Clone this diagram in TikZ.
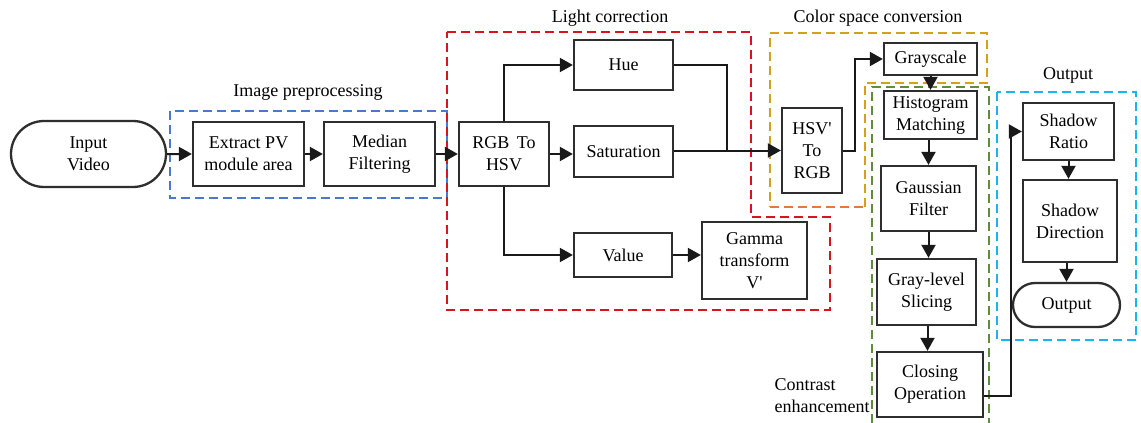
\documentclass[tikz,border=0pt]{standalone}
\usepackage{fontspec}
\setmainfont{Liberation Serif}
\usetikzlibrary{arrows.meta,shapes.misc}
\definecolor{edge}{HTML}{2E2E2E}
\definecolor{preblue}{HTML}{4A78D0}
\definecolor{lightred}{HTML}{D8141C}
\definecolor{csgold}{HTML}{D4A21A}
\definecolor{csorange}{HTML}{E8783A}
\definecolor{cegreen}{HTML}{5E8E3A}
\definecolor{outcyan}{HTML}{1AB4EE}
\newcommand{\prm}{\textquotesingle}
\tikzset{
  txt/.style={font=\fontsize{18}{22}\selectfont},
  stepbox/.style={txt, draw=edge, line width=2.3pt, fill=white, align=center, inner sep=0pt},
  terminal/.style={stepbox, rounded rectangle},
  arr/.style={draw=black!90, line width=2pt, -{Triangle[length=13pt,width=14pt]}},
  link/.style={draw=black!90, line width=2pt},
  region/.style={line width=2pt, dash pattern=on 9pt off 5pt},
}
\begin{document}
\begin{tikzpicture}[x=1pt,y=-1pt]
\useasboundingbox (0,0) rectangle (1141,423);

% group outlines
\draw[region, preblue] (170,111) rectangle (447,198);
\draw[region, lightred] (447,32) -- (751,32) -- (751,217) -- (830,217) -- (830,310) -- (447,310) -- cycle;
\draw[region, csgold] (865,207) -- (865,83) -- (987,83) -- (987,33) -- (770,33) -- (770,207);
\draw[region, csorange] (770,207) -- (865,207);
\draw[region, cegreen] (872,423) -- (872,87) -- (989,87) -- (989,423);
\draw[region, outcyan] (997,92) rectangle (1136,340);

% group titles
\node[txt] (tpre) at (308,92) {Image preprocessing};
\node[txt] (tlight) at (610,18) {Light correction};
\node[txt] (tcolor) at (878,18) {Color space conversion};
\node[txt] (tout) at (1068,75) {Output};
\node[txt, align=left, anchor=west] (tcon) at (771,396) {Contrast\\enhancement};

% processing steps
\node[terminal, minimum width=155, minimum height=66] (in) at (88.5,154) {Input\\Video};
\node[stepbox, minimum width=111, minimum height=64] (ext) at (248.5,154) {Extract PV\\module area};
\node[stepbox, minimum width=111, minimum height=64] (med) at (379.5,154) {Median\\Filtering};
\node[stepbox, minimum width=90, minimum height=64] (rgb) at (504,154) {RGB\, To\\HSV};
\node[stepbox, minimum width=99, minimum height=50] (hue) at (623.5,65) {Hue};
\node[stepbox, minimum width=99, minimum height=51] (sat) at (623.5,151.5) {Saturation};
\node[stepbox, minimum width=98, minimum height=44] (val) at (623,255) {Value};
\node[stepbox, minimum width=105, minimum height=77] (gam) at (754.5,260.5) {Gamma\\transform\\V\prm};
\node[stepbox, minimum width=60, minimum height=85] (hsv) at (812,150.5) {HSV\prm\\To\\RGB};
\node[stepbox, minimum width=93, minimum height=32] (gray) at (930.5,59) {Grayscale};
\node[stepbox, minimum width=93, minimum height=48] (hist) at (930.5,115) {Histogram\\Matching};
\node[stepbox, minimum width=95, minimum height=65] (gauss) at (928.5,198.5) {Gaussian\\Filter};
\node[stepbox, minimum width=99, minimum height=66] (slice) at (926.5,292) {Gray-level\\Slicing};
\node[stepbox, minimum width=106, minimum height=65] (close) at (930,384.5) {Closing\\Operation};
\node[stepbox, minimum width=91, minimum height=57] (ratio) at (1068.5,131.5) {Shadow\\Ratio};
\node[stepbox, minimum width=94, minimum height=82] (dir) at (1070,221) {Shadow\\Direction};
\node[terminal, minimum width=107, minimum height=44] (out) at (1066.5,305) {Output};

% connectors
\draw[arr] (in) -- (ext);
\draw[arr] (ext) -- (med);
\draw[arr] (med) -- (rgb);
\draw[arr] (rgb.north) |- (hue.west);
\draw[arr] (rgb.east) -- (rgb.east -| sat.west);
\draw[arr] (rgb.south) |- (val.west);
\draw[arr] (val.east) -- (val.east -| gam.west);
\coordinate (merge) at (727,150.5);
\draw[link] (hue.east) -| (merge);
\draw[arr] (sat.east |- hsv.west) -- (hsv.west);
\draw[arr] (hsv.east) -- ++(12,0) |- (gray.west);
\draw[arr] (gray.south) -- (gray.south |- hist.north);
\draw[arr] (hist.south -| gauss.north) -- (gauss.north);
\draw[arr] (gauss.south) -- (gauss.south |- slice.north);
\draw[arr] ([xshift=1pt]slice.south) -- ([xshift=1pt]slice.south |- close.north);
\draw[arr] ([yshift=-11pt]close.east) -- ++(27,0) |- (ratio.west);
\draw[arr] (ratio.south) -- (ratio.south |- dir.north);
\draw[arr] (dir.south -| out.north) -- (out.north);
\end{tikzpicture}
\end{document}
